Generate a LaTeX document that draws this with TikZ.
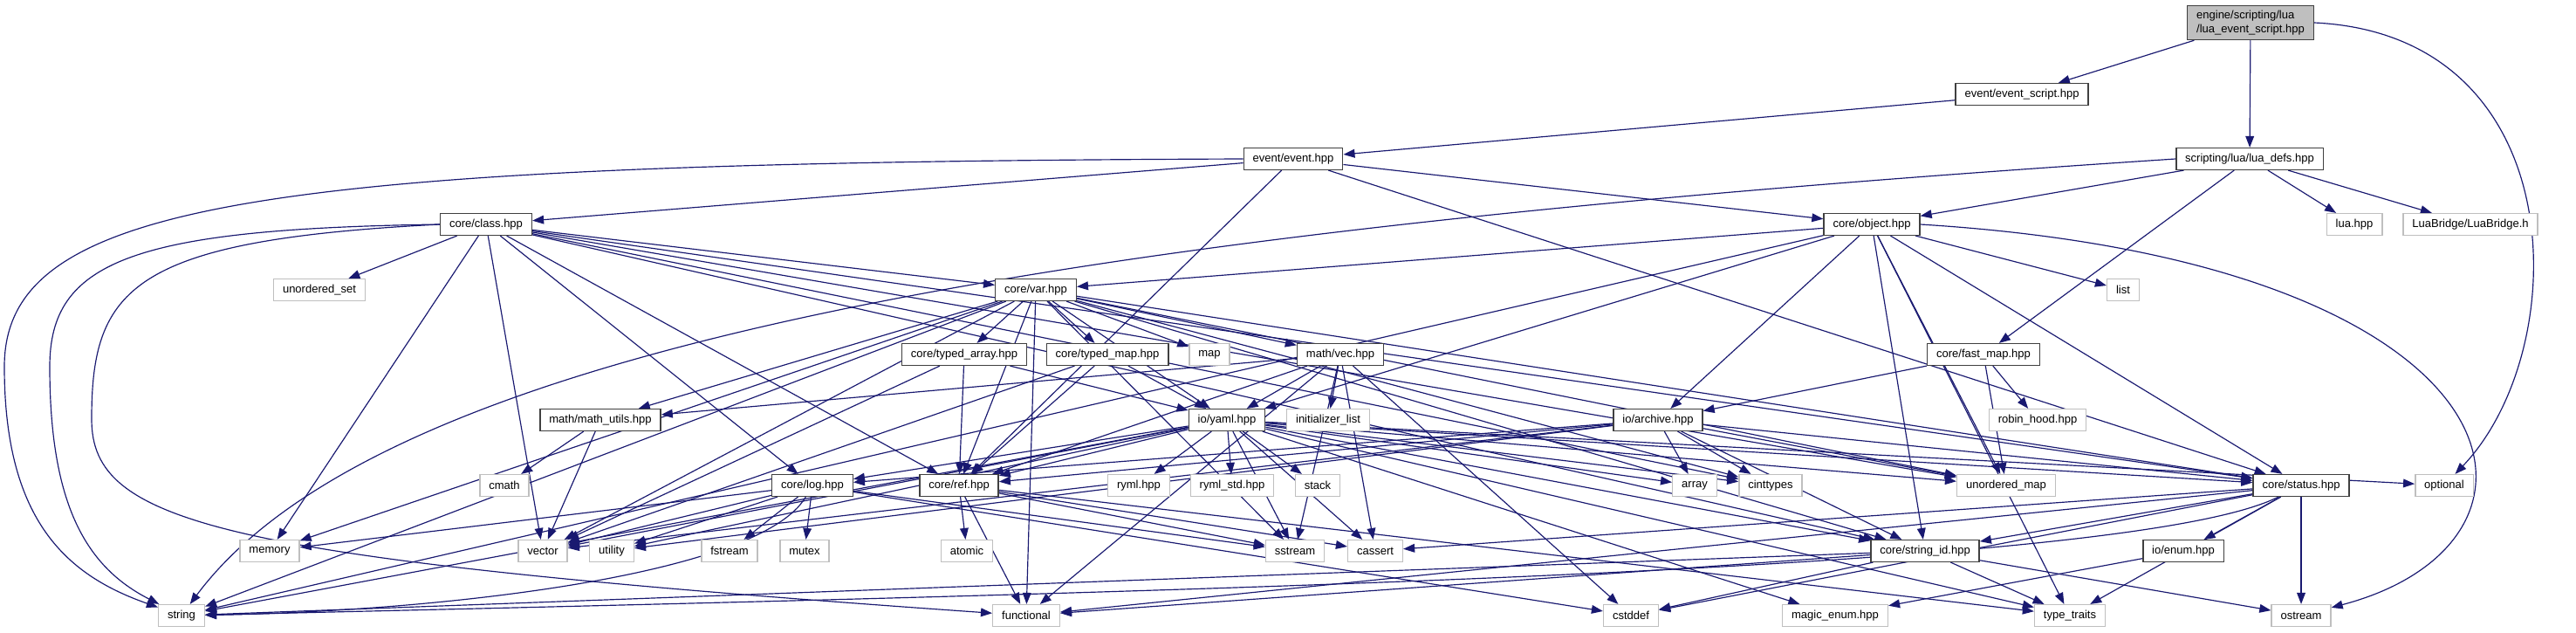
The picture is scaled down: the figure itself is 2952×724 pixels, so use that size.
\documentclass[tikz,border=0pt]{standalone}
\usepackage{fontspec}
\setmainfont{Liberation Sans}
\usetikzlibrary{arrows.meta}
\definecolor{incblue}{RGB}{25,25,112}
\definecolor{sysgray}{RGB}{191,191,191}
\definecolor{hdrgray}{RGB}{64,64,64}
\pgfdeclarelayer{back}
\pgfsetlayers{back,main}

\begin{document}
\begin{tikzpicture}[x=0.027cm,y=-0.027cm,>={Triangle[length=10pt,width=7.5pt]},
  hdr/.style={draw=hdrgray,line width=1.1pt,fill=white,font=\fontsize{10}{12}\selectfont,inner xsep=8pt,inner ysep=0pt,minimum height=19pt},
  sys/.style={hdr,draw=sysgray},
  inc/.style={draw=incblue,line width=0.9pt,->}]
  \useasboundingbox (0,0) rectangle (2952,724);
  \node[hdr,fill=sysgray,align=left,minimum height=30pt] (les) at (2579,26) {engine/scripting/lua\\/lua\_event\_script.hpp};
  \node[hdr] (es) at (2317,108) {event/event\_script.hpp};
  \node[hdr] (ev) at (1482,182) {event/event.hpp};
  \node[hdr] (ld) at (2578,182) {scripting/lua/lua\_defs.hpp};
  \node[hdr] (cls) at (557,257) {core/class.hpp};
  \node[hdr] (obj) at (2145,257) {core/object.hpp};
  \node[sys] (lua) at (2698,257) {lua.hpp};
  \node[sys] (lb) at (2831,257) {LuaBridge/LuaBridge.h};
  \node[sys] (uset) at (366,332) {unordered\_set};
  \node[hdr] (var) at (1187,332) {core/var.hpp};
  \node[sys] (list) at (2433,332) {list};
  \node[hdr] (ta) at (1105,406) {core/typed\_array.hpp};
  \node[hdr] (tm) at (1269,406) {core/typed\_map.hpp};
  \node[sys] (map) at (1386,406) {map};
  \node[hdr] (vec) at (1536,406) {math/vec.hpp};
  \node[hdr] (fm) at (2273,406) {core/fast\_map.hpp};
  \node[hdr] (mu) at (688,481) {math/math\_utils.hpp};
  \node[hdr] (yaml) at (1406,481) {io/yaml.hpp};
  \node[sys] (il) at (1522,481) {initializer\_list};
  \node[sys] (rh) at (2335,481) {robin\_hood.hpp};
  \node[hdr] (arc) at (1900,481) {io/archive.hpp};
  \node[sys] (cmath) at (578,556) {cmath};
  \node[hdr] (log) at (931,556) {core/log.hpp};
  \node[hdr] (ref) at (1099,556) {core/ref.hpp};
  \node[sys] (ryml) at (1305,556) {ryml.hpp};
  \node[sys] (rstd) at (1412,556) {ryml\_std.hpp};
  \node[sys] (stack) at (1510,556) {stack};
  \node[sys] (array) at (1942,556) {array};
  \node[sys] (cint) at (2029,556) {cinttypes};
  \node[sys] (umap) at (2299,556) {unordered\_map};
  \node[hdr] (status) at (2637,556) {core/status.hpp};
  \node[sys] (opt) at (2801,556) {optional};
  \node[sys] (memory) at (309,631) {memory};
  \node[sys] (vector) at (622,631) {vector};
  \node[sys] (utility) at (701,631) {utility};
  \node[sys] (fstream) at (836,631) {fstream};
  \node[sys] (mutex) at (922,631) {mutex};
  \node[sys] (atomic) at (1108,631) {atomic};
  \node[sys] (sstream) at (1484,631) {sstream};
  \node[sys] (cassert) at (1576,631) {cassert};
  \node[hdr] (sid) at (2206,631) {core/string\_id.hpp};
  \node[hdr] (enum) at (2502,631) {io/enum.hpp};
  \node[sys] (string) at (208,705) {string};
  \node[sys] (func) at (1176,705) {functional};
  \node[sys] (cstddef) at (1869,705) {cstddef};
  \node[sys] (magic) at (2103,705) {magic\_enum.hpp};
  \node[sys] (tt) at (2372,705) {type\_traits};
  \node[sys] (ostream) at (2637,705) {ostream};
  \begin{pgfonlayer}{back}
  \draw[inc] (les) -- (es);
  \draw[inc] (les) -- (ld);
  \draw[inc] (les.east) .. controls (2950,40) and (2950,400) .. (opt);
  \draw[inc] (es) -- (ev);
  \draw[inc] (ev) -- (cls);
  \draw[inc] (ev) -- (obj);
  \draw[inc] (ev) -- (ref);
  \draw[inc] (ev.west) .. controls (300,186) and (5,230) .. (5,420) .. controls (5,600) and (80,660) .. (string);
  \draw[inc] (ev) -- (status);
  \draw[inc] (ld) -- (obj);
  \draw[inc] (ld) -- (fm);
  \draw[inc] (ld) -- (lua);
  \draw[inc] (ld) -- (lb);
  \draw[inc] (ld.west) .. controls (1300,260) and (450,380) .. (string);
  \draw[inc] (cls.west) .. controls (150,262) and (57,300) .. (57,420) .. controls (57,580) and (100,650) .. (string);
  \draw[inc] (cls.west) .. controls (150,275) and (105,330) .. (105,480) .. controls (105,600) and (250,640) .. (func);
  \draw[inc] (cls) -- (memory);
  \draw[inc] (cls) -- (vector);
  \draw[inc] (cls) -- (uset);
  \draw[inc] (cls) -- (log);
  \draw[inc] (cls) -- (ref);
  \draw[inc] (cls) -- (var);
  \draw[inc] (cls) -- (status);
  \draw[inc] (cls) -- (sid);
  \draw[inc] (cls) -- (umap);
  \draw[inc] (cls) -- (cint);
  \draw[inc] (obj) -- (var);
  \draw[inc] (obj) -- (yaml);
  \draw[inc] (obj) -- (arc);
  \draw[inc] (obj) -- (status);
  \draw[inc] (obj) -- (sid);
  \draw[inc] (obj) -- (string);
  \draw[inc] (obj) -- (list);
  \draw[inc] (obj) -- (umap);
  \draw[inc] (obj.east) .. controls (2900,300) and (2960,620) .. (ostream);
  \draw[inc] (obj) -- (tt);
  \draw[inc] (var) -- (ta);
  \draw[inc] (var) -- (tm);
  \draw[inc] (var) -- (map);
  \draw[inc] (var) -- (vec);
  \draw[inc] (var) -- (mu);
  \draw[inc] (var) -- (yaml);
  \draw[inc] (var) -- (ref);
  \draw[inc] (var) -- (string);
  \draw[inc] (var) -- (vector);
  \draw[inc] (var) -- (memory);
  \draw[inc] (var) -- (func);
  \draw[inc] (var) -- (status);
  \draw[inc] (var) -- (sid);
  \draw[inc] (var) -- (umap);
  \draw[inc] (var) -- (cint);
  \draw[inc] (var) -- (sstream);
  \draw[inc] (ta) -- (yaml);
  \draw[inc] (ta) -- (ref);
  \draw[inc] (ta) -- (vector);
  \draw[inc] (tm) -- (yaml);
  \draw[inc] (tm) -- (ref);
  \draw[inc] (tm) -- (vector);
  \draw[inc] (vec) -- (mu);
  \draw[inc] (vec) -- (yaml);
  \draw[inc] (vec) -- (il);
  \draw[inc] (vec) -- (cstddef);
  \draw[inc] (vec) -- (sstream);
  \draw[inc] (vec) -- (cassert);
  \draw[inc] (vec) -- (ref);
  \draw[inc] (vec) -- (func);
  \draw[inc] (mu) -- (cmath);
  \draw[inc] (mu) -- (vector);
  \draw[inc] (fm) -- (arc);
  \draw[inc] (fm) -- (umap);
  \draw[inc] (fm) -- (rh);
  \draw[inc] (yaml) -- (ryml);
  \draw[inc] (yaml) -- (rstd);
  \draw[inc] (yaml) -- (stack);
  \draw[inc] (yaml) -- (ref);
  \draw[inc] (yaml) -- (log);
  \draw[inc] (yaml) -- (array);
  \draw[inc] (yaml) -- (cint);
  \draw[inc] (yaml) -- (umap);
  \draw[inc] (yaml) -- (status);
  \draw[inc] (yaml) -- (sid);
  \draw[inc] (yaml) -- (sstream);
  \draw[inc] (yaml) -- (cassert);
  \draw[inc] (yaml) -- (vector);
  \draw[inc] (yaml) -- (utility);
  \draw[inc] (yaml) -- (string);
  \draw[inc] (yaml) -- (magic);
  \draw[inc] (yaml) -- (tt);
  \draw[inc] (yaml) -- (opt);
  \draw[inc] (arc) -- (array);
  \draw[inc] (arc) -- (cint);
  \draw[inc] (arc) -- (umap);
  \draw[inc] (arc) -- (status);
  \draw[inc] (arc) -- (sid);
  \draw[inc] (arc) -- (ref);
  \draw[inc] (arc) -- (log);
  \draw[inc] (arc) -- (vector);
  \draw[inc] (arc) -- (utility);
  \draw[inc] (log) -- (memory);
  \draw[inc] (log) -- (vector);
  \draw[inc] (log) -- (utility);
  \draw[inc] (log) -- (fstream);
  \draw[inc] (log) -- (mutex);
  \draw[inc] (log) .. controls (870,660) and (500,700) .. (string);
  \draw[inc] (log) -- (sstream);
  \draw[inc] (log) -- (cstddef);
  \draw[inc] (ref) -- (atomic);
  \draw[inc] (ref) -- (func);
  \draw[inc] (ref) -- (sstream);
  \draw[inc] (ref) -- (cassert);
  \draw[inc] (ref) -- (tt);
  \draw[inc] (status) -- (sid);
  \draw[inc] (status) -- (enum);
  \draw[inc] (status) -- (ostream);
  \draw[inc] (status) -- (tt);
  \draw[inc] (status) .. controls (2450,650) and (1500,675) .. (string);
  \draw[inc] (status) -- (func);
  \draw[inc] (status) -- (cstddef);
  \draw[inc] (status) -- (cassert);
  \draw[inc] (sid) -- (string);
  \draw[inc] (sid) -- (func);
  \draw[inc] (sid) -- (cstddef);
  \draw[inc] (sid) -- (tt);
  \draw[inc] (sid) -- (ostream);
  \draw[inc] (enum) -- (magic);
  \end{pgfonlayer}
\end{tikzpicture}
\end{document}
